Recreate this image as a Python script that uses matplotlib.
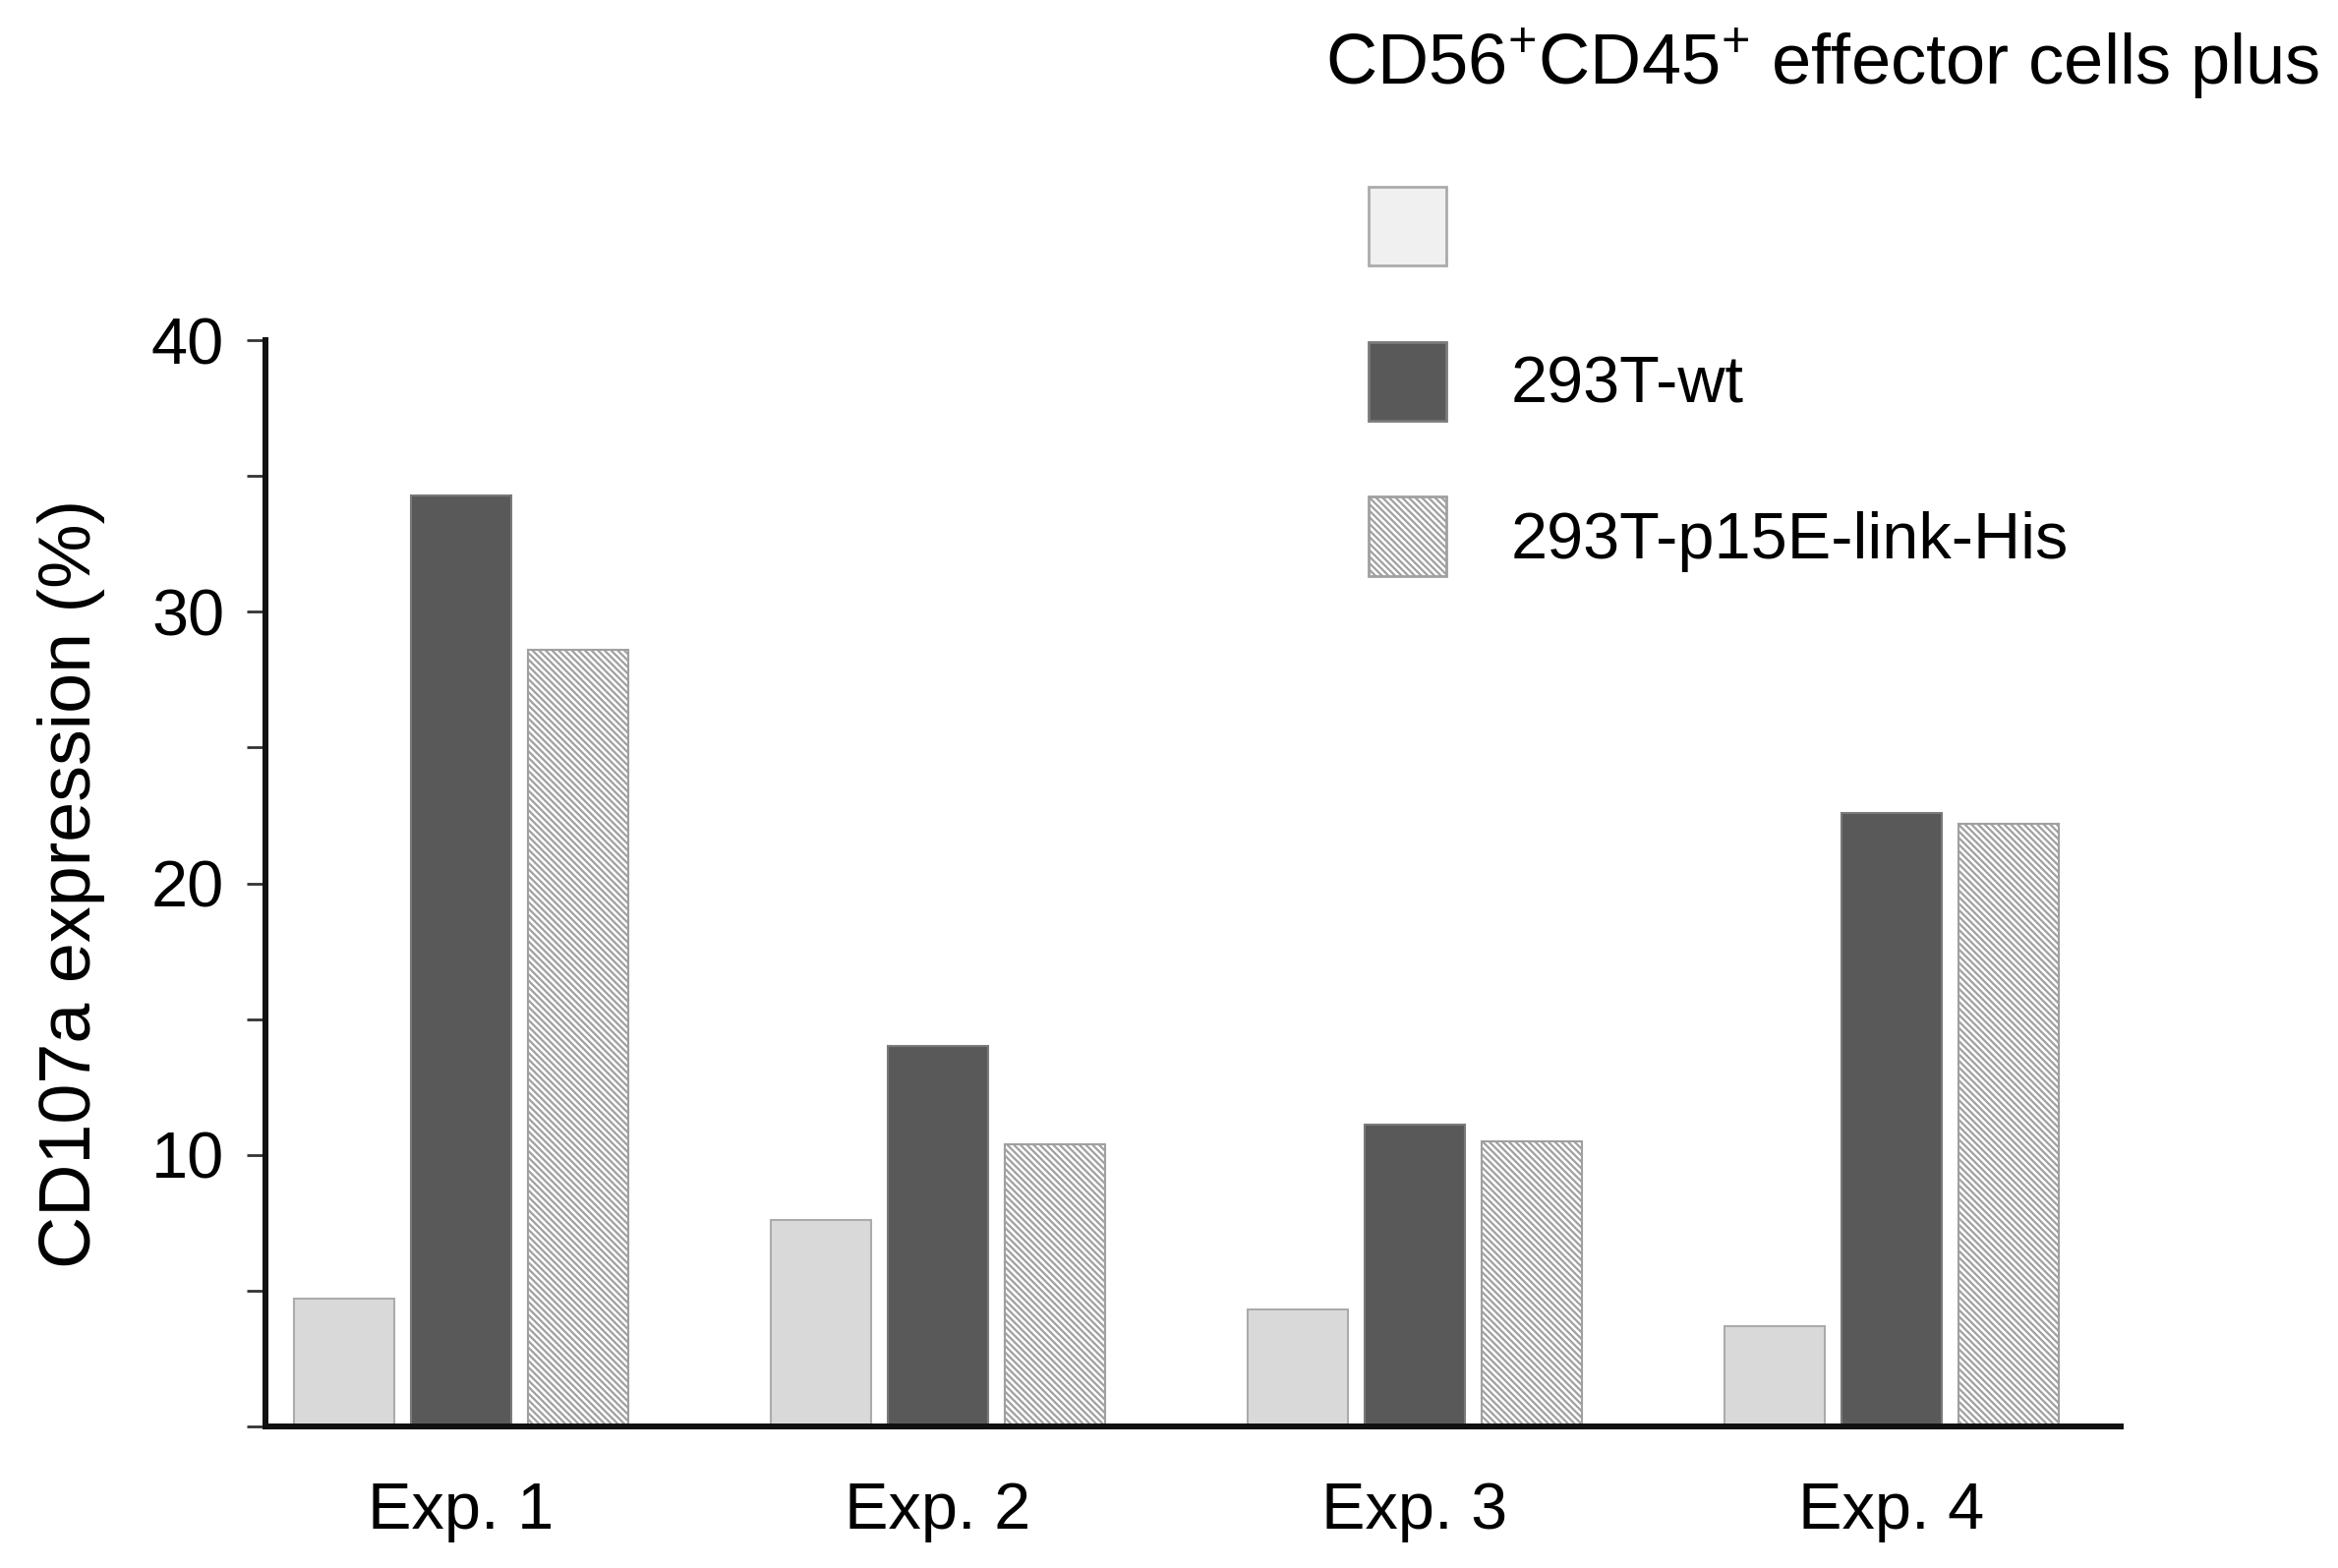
import matplotlib
matplotlib.use("Agg")
import numpy as np
from matplotlib import pyplot as plt
from matplotlib.patches import Patch

# values
experiments = ["Exp. 1", "Exp. 2", "Exp. 3", "Exp. 4"]
series_labels = ["", "293T-wt", "293T-p15E-link-His"]
no_target = [4.7, 7.6, 4.3, 3.7]
wt = [34.3, 14.0, 11.1, 22.6]
p15e = [28.6, 10.4, 10.5, 22.2]

plt.rcParams.update({
    "font.family": ["Liberation Sans", "DejaVu Sans"],
    "mathtext.fontset": "custom",
    "mathtext.rm": "Liberation Sans",
    "mathtext.it": "Liberation Sans",
    "hatch.color": "#8c8c8c",
    "hatch.linewidth": 1.6,
})

FS = 48
HATCH = "\\" * 5

fig = plt.figure(figsize=(23.78, 15.95), dpi=100)
ax = fig.add_axes([0.1135, 0.0903, 0.7935, 0.6927])

x = np.arange(len(experiments))
width = 0.21
step = 0.245

ax.bar(x - step, no_target, width, color="#d9d9d9", edgecolor="#ababab",
       linewidth=1.5)
ax.bar(x, wt, width, color="#595959", edgecolor="#7a7a7a", linewidth=1.5)
ax.bar(x + step, p15e, width, color="white", edgecolor="#a0a0a0",
       linewidth=1.5, hatch=HATCH)

ax.set_xlim(-0.41, 3.48)
ax.set_ylim(0, 40)
ax.set_yticks([0, 10, 20, 30, 40])
ax.set_yticklabels(["", "10", "20", "30", "40"])
ax.set_yticks([5, 15, 25, 35], minor=True)
ax.set_xticks(x)
ax.set_xticklabels(experiments)

ax.spines["top"].set_visible(False)
ax.spines["right"].set_visible(False)
for side in ("left", "bottom"):
    ax.spines[side].set_linewidth(4.3)
    ax.spines[side].set_color("#111111")

ax.tick_params(axis="y", which="both", direction="out", length=14, width=2,
               color="#333333", labelsize=FS, pad=16)
ax.tick_params(axis="x", length=0, labelsize=FS, pad=40)
ax.set_ylabel("CD107a expression (%)", fontsize=53, labelpad=34)

fig.text(0.992, 0.946, "CD56$^{+}$CD45$^{+}$ effector cells plus",
         fontsize=52, ha="right", va="baseline")

handles = [
    Patch(facecolor="#f0f0f0", edgecolor="#ababab", linewidth=2),
    Patch(facecolor="#595959", edgecolor="#7a7a7a", linewidth=2),
    Patch(facecolor="white", edgecolor="#a0a0a0", linewidth=2, hatch=HATCH),
]
fig.legend(handles, series_labels, loc="upper left",
           bbox_to_anchor=(0.5855, 0.881), frameon=False, fontsize=FS,
           handlelength=1.18, handleheight=1.48, labelspacing=1.16,
           handletextpad=0.98, borderpad=0, borderaxespad=0)

fig.savefig("out.png", dpi=100)
